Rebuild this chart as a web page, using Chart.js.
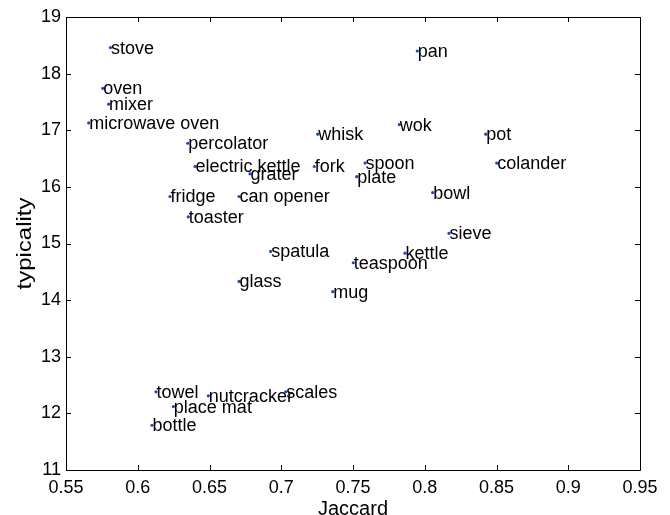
<!DOCTYPE html>
<html>
<head>
<meta charset="utf-8">
<script src="https://cdn.jsdelivr.net/npm/chart.js@4/dist/chart.umd.min.js"></script>
<style>
html,body{margin:0;padding:0;background:#fff;}
#wrap{width:670px;height:515px;position:relative;}
</style>
</head>
<body>
<div id="wrap"><canvas id="c" width="670" height="515"></canvas></div>
<script>
const words = ['stove','oven','mixer','microwave oven','percolator','electric kettle','grater','fork','whisk','fridge','can opener','toaster',
  'pan','wok','pot','colander','spoon','plate','bowl','spatula','teaspoon','glass','mug','towel','nutcracker','scales','place mat','bottle','sieve','kettle'];
const jaccard = [0.581,0.5756,0.5797,0.5658,0.6348,0.6399,0.6782,0.7230,0.7254,0.6225,0.6706,0.6352,
  0.7948,0.7823,0.8425,0.8501,0.7584,0.7526,0.8055,0.6926,0.7502,0.6706,0.7359,0.6127,0.6492,0.7031,0.6248,0.6099,0.8169,0.7862];
const typicality = [18.46,17.74,17.46,17.13,16.77,16.36,16.23,16.36,16.93,15.83,15.83,15.47,
  18.40,17.10,16.93,16.42,16.42,16.18,15.90,14.86,14.66,14.33,14.15,12.38,12.31,12.38,12.12,11.79,15.18,14.83];
const xTicks = [0.55,0.6,0.65,0.7,0.75,0.8,0.85,0.9,0.95];
const xTickLabels = ['0.55','0.6','0.65','0.7','0.75','0.8','0.85','0.9','0.95'];
const yTicks = [11,12,13,14,15,16,17,18,19];
const yTickLabels = ['11','12','13','14','15','16','17','18','19'];

const FONT = 'Liberation Sans, Arial, Helvetica, sans-serif';

const framePlugin = {
  id: 'frame',
  afterDraw(chart) {
    const ctx = chart.ctx, a = chart.chartArea;
    const xs = chart.scales.x, ys = chart.scales.y;
    ctx.save();
    ctx.strokeStyle = '#000';
    ctx.lineWidth = 1;
    ctx.beginPath();
    ctx.rect(Math.round(a.left)+0.5, Math.round(a.top)+0.5, Math.round(a.right-a.left), Math.round(a.bottom-a.top));
    ctx.stroke();
    ctx.beginPath();
    xTicks.forEach(v => {
      const px = Math.round(xs.getPixelForValue(v)) + 0.5;
      ctx.moveTo(px, a.bottom); ctx.lineTo(px, a.bottom - 5);
      ctx.moveTo(px, a.top); ctx.lineTo(px, a.top + 5);
    });
    yTicks.forEach(v => {
      const py = Math.round(ys.getPixelForValue(v)) + 0.5;
      ctx.moveTo(a.left, py); ctx.lineTo(a.left + 5, py);
      ctx.moveTo(a.right, py); ctx.lineTo(a.right - 5, py);
    });
    ctx.stroke();
    // point labels
    ctx.fillStyle = '#000';
    ctx.font = '18px ' + FONT;
    ctx.textAlign = 'left';
    ctx.textBaseline = 'middle';
    const meta = chart.getDatasetMeta(0);
    meta.data.forEach((pt, i) => {
      ctx.fillText(words[i], pt.x + 0.5, pt.y + 1);
    });
    // y title
    ctx.save();
    ctx.translate(25, (a.top + a.bottom) / 2);
    ctx.rotate(-Math.PI / 2);
    ctx.scale(1.2, 1);
    ctx.font = '20px ' + FONT;
    ctx.textAlign = 'center';
    ctx.textBaseline = 'middle';
    ctx.fillText('typicality', 0, 0);
    ctx.restore();
    ctx.restore();
  }
};

new Chart(document.getElementById('c'), {
  type: 'scatter',
  data: {
    datasets: [{
      data: jaccard.map((x, i) => ({x: x, y: typicality[i]})),
      backgroundColor: '#1f45c8',
      borderWidth: 0,
      pointRadius: 1.6,
      pointHoverRadius: 1.6
    }]
  },
  options: {
    responsive: false,
    animation: false,
    events: [],
    layout: { padding: { left: 0, right: 30, top: 17, bottom: 0 } },
    plugins: { legend: { display: false }, tooltip: { enabled: false } },
    scales: {
      x: {
        type: 'linear', min: 0.55, max: 0.95,
        afterBuildTicks: s => { s.ticks = xTicks.map(v => ({value: v})); },
        afterFit: s => { s.height = 45; },
        grid: { display: false, drawTicks: false },
        border: { display: false },
        ticks: {
          color: '#000', padding: 7, maxRotation: 0, autoSkip: false,
          font: { family: FONT, size: 18 },
          callback: v => xTickLabels[xTicks.findIndex(t => Math.abs(t - v) < 1e-9)]
        },
        title: {
          display: true, text: 'Jaccard', color: '#000',
          font: { family: FONT, size: 20, lineHeight: 0.6 },
          padding: { top: 0, bottom: 0 }
        }
      },
      y: {
        type: 'linear', min: 11, max: 19,
        afterBuildTicks: s => { s.ticks = yTicks.map(v => ({value: v})); },
        afterFit: s => { s.width = 66; },
        grid: { display: false, drawTicks: false },
        border: { display: false },
        ticks: {
          color: '#000', padding: 5, autoSkip: false,
          font: { family: FONT, size: 18 },
          callback: v => yTickLabels[yTicks.indexOf(v)]
        }
      }
    }
  },
  plugins: [framePlugin]
});
</script>
</body>
</html>
